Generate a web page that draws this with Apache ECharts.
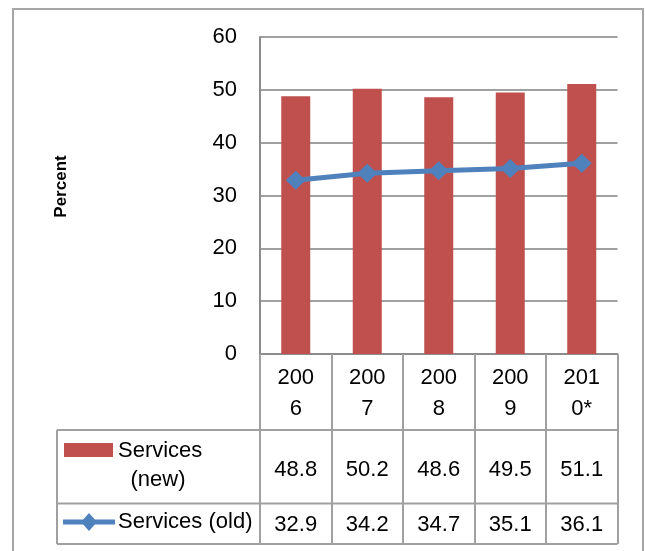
<!DOCTYPE html>
<html>
<head>
<meta charset="utf-8">
<script src="https://cdn.jsdelivr.net/npm/echarts@6/dist/echarts.min.js"></script>
<style>html,body{margin:0;padding:0;background:#fff}#c{width:645px;height:551px}</style>
</head>
<body>
<div id="c"></div>
<script>
var categories = ['2006', '2007', '2008', '2009', '2010*'];
var seriesNames = ['Services (new)', 'Services (old)'];
var servicesNew = [48.8, 50.2, 48.6, 49.5, 51.1];
var servicesOld = [32.9, 34.2, 34.7, 35.1, 36.1];
var yTicks = { min: 0, max: 60, interval: 10 };
var yAxisTitle = 'Percent';

var FONT = 'Liberation Sans';
var RED = '#C0504D', BLUE = '#4F81BD', GRID = '#a0a0a0', AX = '#8c8c8c';
var gridBox = { left: 260, right: 27.5, top: 37, bottom: 197, outerBoundsMode: 'none' };

var chart = echarts.init(document.getElementById('c'), null, { renderer: 'canvas' });

function valueAxis(idx, values, margin) {
  return {
    type: 'category', gridIndex: idx, position: 'bottom',
    data: values.map(function (v) { return v.toFixed(1); }),
    axisLine: { show: false }, axisTick: { show: false }, splitLine: { show: false },
    axisLabel: { interval: 0, margin: margin, fontFamily: FONT, fontSize: 22, lineHeight: 26, color: '#000' }
  };
}
function hiddenY(idx) {
  return { type: 'value', gridIndex: idx, show: false, min: yTicks.min, max: yTicks.max };
}

var tableLeft = 57, tableRight = 617.5;
var rowLines = [430, 503.5, 544];

chart.setOption({
  animation: false,
  grid: [gridBox, gridBox, gridBox],
  xAxis: [
    {
      type: 'category', gridIndex: 0, data: categories, boundaryGap: true,
      axisLine: { lineStyle: { color: AX, width: 2 } },
      axisTick: { show: true, interval: 0, length: 190, lineStyle: { color: GRID, width: 2 } },
      axisLabel: {
        interval: 0, margin: 8.5, fontFamily: FONT, fontSize: 22, lineHeight: 31, color: '#000',
        formatter: function (v) { return v.slice(0, 3) + '\n' + v.slice(3); }
      }
    },
    valueAxis(1, servicesNew, 102.5),
    valueAxis(2, servicesOld, 157.5)
  ],
  yAxis: [
    {
      type: 'value', gridIndex: 0, min: yTicks.min, max: yTicks.max, interval: yTicks.interval,
      axisLine: { show: true, lineStyle: { color: AX, width: 2 } },
      axisTick: { show: false },
      axisLabel: { margin: 23, fontFamily: FONT, fontSize: 22, color: '#000' },
      splitLine: { lineStyle: { color: GRID, width: 2 } }
    },
    hiddenY(1), hiddenY(2)
  ],
  series: [
    {
      name: seriesNames[0], type: 'bar', xAxisIndex: 0, yAxisIndex: 0,
      data: servicesNew, barWidth: 29, itemStyle: { color: RED }
    },
    {
      name: seriesNames[1], type: 'line', xAxisIndex: 0, yAxisIndex: 0,
      data: servicesOld, symbol: 'diamond', symbolSize: [20, 19],
      lineStyle: { color: BLUE, width: 5 }, itemStyle: { color: BLUE }, z: 5
    }
  ],
  graphic: [
    { type: 'rect', shape: { x: 13, y: 9, width: 630, height: 570 }, style: { fill: 'none', stroke: '#a6a6a6', lineWidth: 2 }, silent: true, z: -1 },
    { type: 'text', x: 61, y: 186.5, rotation: Math.PI / 2, style: { text: yAxisTitle, font: 'bold 17px "' + FONT + '"', fill: '#000', textAlign: 'center', textVerticalAlign: 'middle' } },
    { type: 'line', shape: { x1: tableLeft, y1: rowLines[0], x2: tableRight, y2: rowLines[0] }, style: { stroke: GRID, lineWidth: 2 } },
    { type: 'line', shape: { x1: tableLeft, y1: rowLines[1], x2: tableRight, y2: rowLines[1] }, style: { stroke: GRID, lineWidth: 2 } },
    { type: 'line', shape: { x1: tableLeft, y1: rowLines[2], x2: tableRight, y2: rowLines[2] }, style: { stroke: GRID, lineWidth: 2 } },
    { type: 'line', shape: { x1: tableLeft, y1: rowLines[0], x2: tableLeft, y2: rowLines[2] }, style: { stroke: GRID, lineWidth: 2 } },
    { type: 'rect', shape: { x: 64, y: 443, width: 49, height: 14 }, style: { fill: RED } },
    { type: 'text', x: 118, y: 451, style: { text: seriesNames[0].split(' ')[0], font: '22px "' + FONT + '"', fill: '#000', textVerticalAlign: 'middle' } },
    { type: 'text', x: 158, y: 480, style: { text: seriesNames[0].split(' ')[1], font: '22px "' + FONT + '"', fill: '#000', textAlign: 'center', textVerticalAlign: 'middle' } },
    { type: 'line', shape: { x1: 63, y1: 522, x2: 115, y2: 522 }, style: { stroke: BLUE, lineWidth: 5 } },
    { type: 'polygon', shape: { points: [[89, 513], [97, 522], [89, 531], [81, 522]] }, style: { fill: BLUE } },
    { type: 'text', x: 118, y: 522, style: { text: seriesNames[1], font: '22px "' + FONT + '"', fill: '#000', textVerticalAlign: 'middle' } }
  ]
});
</script>
</body>
</html>
